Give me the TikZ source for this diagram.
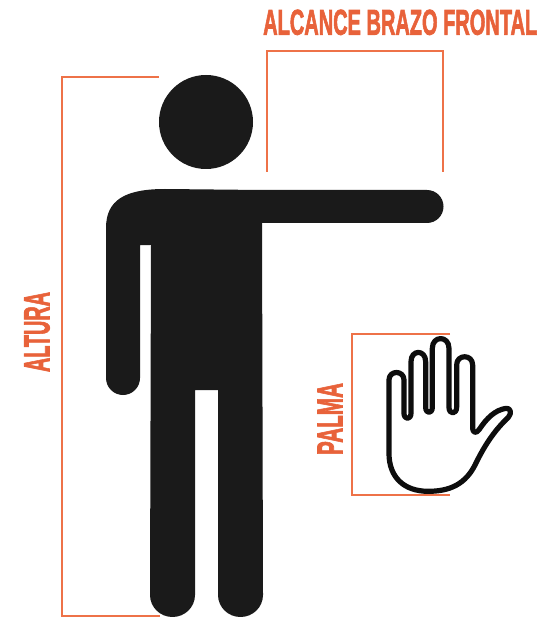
\documentclass[tikz,border=0pt]{standalone}
\usepackage{graphicx}
\usepackage{fontspec}
\setmainfont{Liberation Sans}
\newfontfamily\labelfont[BoldFont=*, FakeBold=2.5]{Liberation Sans Bold}
\usepackage{xcolor}
\definecolor{bodyblack}{HTML}{1A1A1A}
\definecolor{labelorange}{HTML}{E8623A}
\definecolor{lineorange}{HTML}{EE7248}
\begin{document}
\begin{tikzpicture}[x=1pt, y=-1pt,
  figure/.style={fill=bodyblack, draw=none},
  bracket/.style={draw=lineorange, line width=2pt, line join=miter},
  handline/.style={draw=black!95, line width=5.2pt, line join=round, line cap=round},
  label/.style={inner sep=0pt, text=labelorange, font=\labelfont}
]
\useasboundingbox (0,0) rectangle (548,617);
% brackets
\coordinate (altA) at (159,77);
\coordinate (altB) at (62,77);
\coordinate (altC) at (62,616);
\coordinate (altD) at (160,616);
\draw[bracket] (altA) -- (altB) -- (altC) -- (altD);
\coordinate (armA) at (267,172);
\coordinate (armB) at (267,51);
\coordinate (armC) at (443,51);
\coordinate (armD) at (443,172);
\draw[bracket] (armA) -- (armB) -- (armC) -- (armD);
\coordinate (palmA) at (450,334);
\coordinate (palmB) at (352,334);
\coordinate (palmC) at (352,495);
\coordinate (palmD) at (450,495);
\draw[bracket] (palmA) -- (palmB) -- (palmC) -- (palmD);
% person
\fill[figure] (206,122) circle (47);
\fill[figure] (262,190) -- (427,190) arc[start angle=-90, end angle=90, radius=16.5]
  -- (262,223) -- (263,595) arc[start angle=0, end angle=180, x radius=22.5, y radius=22]
  -- (218,390) -- (195,390) -- (195,595) arc[start angle=0, end angle=180, x radius=22.5, y radius=22]
  -- (151,245) -- (140,245) -- (140,378) arc[start angle=0, end angle=180, radius=17]
  -- (106,228) .. controls (106,200) and (125,189) .. (165,189) -- cycle;
% hand
\begin{scope}[shift={(300,320)}, x=0.3333pt, y=-0.3333pt]
\draw[handline] (267,400) -- (267,180) .. controls (267,150) and (312,150) .. (312,180)
  -- (312,280) .. controls (312,300) and (333,300) .. (333,280)
  -- (333,125) .. controls (333,88) and (377,88) .. (377,125)
  -- (377,262) .. controls (377,282) and (397,282) .. (397,262)
  -- (397,85) .. controls (397,46) and (447,46) .. (447,85)
  -- (447,262) .. controls (447,284) and (470,284) .. (470,262)
  -- (470,135) .. controls (470,102) and (518,102) .. (518,135)
  -- (518,322) .. controls (518,342) and (530,340) .. (538,328)
  .. controls (560,295) and (585,270) .. (618,265)
  .. controls (632,263) and (636,280) .. (625,292)
  .. controls (590,325) and (560,365) .. (530,425)
  .. controls (505,480) and (465,514) .. (385,514)
  .. controls (310,514) and (267,470) .. (267,400) -- cycle;
\end{scope}
% labels
\node[label, anchor=north west] (alcance) at (263,9.5)
  {\resizebox{274pt}{25pt}{ALCANCE BRAZO FRONTAL}};
\node[label, rotate=90] (altura) at (37,332)
  {\resizebox{80pt}{25pt}{ALTURA}};
\node[label, rotate=90] (palma) at (330,419)
  {\resizebox{72pt}{25pt}{PALMA}};
\end{tikzpicture}
\end{document}
